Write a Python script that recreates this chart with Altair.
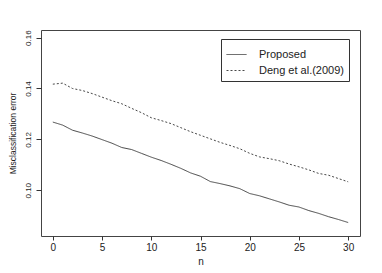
import altair as alt
import pandas as pd

n_values = list(range(31))
proposed = [0.1268, 0.1256, 0.1236, 0.1225, 0.1213, 0.1199, 0.1185, 0.1168, 0.1160, 0.1145,
            0.1130, 0.1117, 0.1102, 0.1086, 0.1068, 0.1055, 0.1034, 0.1026, 0.1017, 0.1006,
            0.0987, 0.0978, 0.0966, 0.0954, 0.0941, 0.0934, 0.0920, 0.0909, 0.0896, 0.0885,
            0.0873]
deng = [0.1417, 0.1421, 0.1400, 0.1392, 0.1380, 0.1366, 0.1352, 0.1340, 0.1322, 0.1305,
        0.1285, 0.1274, 0.1262, 0.1246, 0.1230, 0.1216, 0.1202, 0.1188, 0.1176, 0.1163,
        0.1145, 0.1131, 0.1124, 0.1116, 0.1103, 0.1092, 0.1080, 0.1066, 0.1059, 0.1046,
        0.1033]
methods = ["Proposed", "Deng et al.(2009)"]
x_ticks = [0, 5, 10, 15, 20, 25, 30]
y_ticks = [0.10, 0.12, 0.14, 0.16]

df = pd.DataFrame({
    "n": n_values * 2,
    "err": proposed + deng,
    "method": [methods[0]] * len(n_values) + [methods[1]] * len(n_values),
})

FONT = "Liberation Sans"

chart = alt.Chart(df).mark_line(color="#333333", strokeWidth=0.9).encode(
    x=alt.X("n:Q",
            scale=alt.Scale(domain=[-1.2, 31.2], nice=False, zero=False),
            axis=alt.Axis(values=x_ticks, title="n", grid=False, domain=False,
                          tickSize=4, tickColor="#333333", labelFontSize=10,
                          labelFont=FONT, labelColor="#222222", labelPadding=2,
                          titleFont=FONT, titleFontSize=10, titleFontWeight="normal",
                          titleColor="#222222", titlePadding=4)),
    y=alt.Y("err:Q",
            scale=alt.Scale(domain=[0.082, 0.163], nice=False, zero=False),
            axis=alt.Axis(values=y_ticks, format=".2f", title="Misclassification error",
                          grid=False, domain=False, tickSize=5, tickColor="#333333",
                          labelAngle=270, labelFontSize=8, labelFont=FONT,
                          labelColor="#222222", labelPadding=4,
                          titleFont=FONT, titleFontSize=8.5, titleFontWeight="normal",
                          titleColor="#222222", titlePadding=7)),
    strokeDash=alt.StrokeDash("method:N",
                              scale=alt.Scale(domain=methods, range=[[1, 0], [2, 2]]),
                              legend=alt.Legend(title=None, orient="none",
                                                legendX=180, legendY=9,
                                                strokeColor="#333333", fillColor="white",
                                                padding=5, symbolType="stroke",
                                                symbolSize=400, symbolStrokeColor="#333333",
                                                symbolStrokeWidth=0.9,
                                                labelFont=FONT, labelFontSize=11,
                                                labelColor="#222222", labelOffset=12,
                                                rowPadding=0)),
).properties(
    width=319, height=206,
    autosize=alt.AutoSizeParams(type="none"),
    padding={"left": 33, "top": 22, "right": 14, "bottom": 35},
).configure_view(
    stroke="#444444", strokeWidth=1
)

chart.save("out.html", embed_options={"renderer": "svg", "actions": False})
